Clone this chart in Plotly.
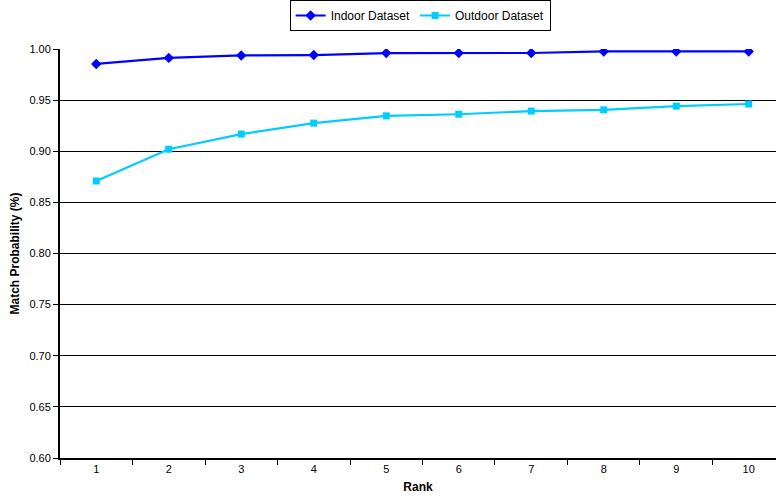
import plotly.graph_objects as go

# Rank categories and match probabilities per dataset
ranks = ["1", "2", "3", "4", "5", "6", "7", "8", "9", "10"]
indoor = [0.9854, 0.9913, 0.9937, 0.9941, 0.9960, 0.9960, 0.9961, 0.9976, 0.9976, 0.9976]
outdoor = [0.8709, 0.9020, 0.9168, 0.9275, 0.9346, 0.9362, 0.9393, 0.9405, 0.9441, 0.9462]

y_ticks = [0.60, 0.65, 0.70, 0.75, 0.80, 0.85, 0.90, 0.95, 1.00]

font_family = "Liberation Sans, Arial, sans-serif"

fig = go.Figure()
fig.add_trace(go.Scatter(
    x=ranks, y=indoor, name="Indoor Dataset", mode="lines+markers",
    line=dict(color="#0000FF", width=2.2),
    marker=dict(symbol="diamond", size=8, color="#0000FF"),
))
fig.add_trace(go.Scatter(
    x=ranks, y=outdoor, name="Outdoor Dataset", mode="lines+markers",
    line=dict(color="#00CCFF", width=2.2),
    marker=dict(symbol="square", size=7, color="#00CCFF"),
))

fig.update_layout(
    width=776, height=501,
    margin=dict(l=60, r=0, t=45, b=43),
    paper_bgcolor="white", plot_bgcolor="white",
    font=dict(family=font_family, size=11, color="black"),
    showlegend=True,
    legend=dict(
        orientation="h", x=0.503, xanchor="center", y=1.045, yanchor="bottom",
        yref="paper", bordercolor="black", borderwidth=1, bgcolor="white",
        font=dict(size=12), itemwidth=30, tracegroupgap=0,
    ),
)

fig.update_xaxes(
    type="category", range=[-0.5, 9.376],
    tickson="boundaries", ticks="outside", ticklen=5, tickcolor="black",
    showline=True, linecolor="black", linewidth=2,
    showgrid=False, zeroline=False,
    tickfont=dict(size=11),
    title=dict(text="<b>Rank</b>", font=dict(size=12), standoff=8),
)
fig.update_yaxes(
    range=[0.6, 1.0], tickvals=y_ticks, tickformat=".2f",
    ticks="outside", ticklen=5, tickcolor="black",
    showline=True, linecolor="black", linewidth=2, mirror=False,
    showgrid=True, gridcolor="black", gridwidth=1,
    zeroline=False, tickfont=dict(size=11),
    title=dict(text="<b>Match Probability (%)</b>", font=dict(size=12), standoff=7),
)

fig.write_html("out.html")
